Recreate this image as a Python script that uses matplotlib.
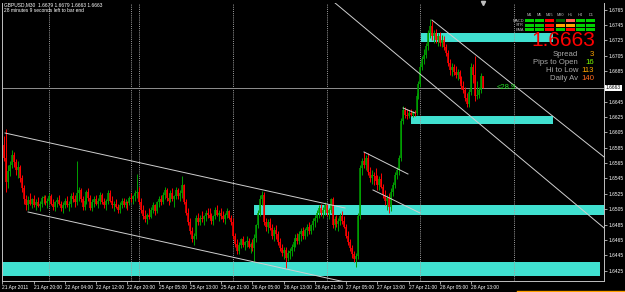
import numpy as np
import matplotlib
matplotlib.use('Agg')
import matplotlib.pyplot as plt
from matplotlib.patches import Rectangle
import matplotlib.transforms as mtransforms

# GBPUSD M30 bars, prices in pips above 1.6400 (open of each bar = previous close)
first_open = 180
highs = [195, 200, 210, 162, 168, 182, 180, 170, 168, 162, 150, 136, 124, 122, 126, 120, 124, 118, 121, 116, 122,
         124,
         124, 120, 126, 125, 118, 116, 121, 124, 116, 114, 120, 122, 116, 126, 128, 124, 168, 134, 132, 122, 120,
         130, 132, 124, 118, 122, 124, 120, 128, 126, 120, 118, 130, 130, 122, 116, 118, 112, 114, 120, 120,
         118,
         116, 122, 126, 124, 130, 151, 134, 120, 110, 104, 100, 106, 108, 114, 112, 116, 122, 124, 128, 134, 132,
         126, 130, 132, 124, 134, 132, 130, 148, 138, 118, 106, 94, 82, 74, 98, 100, 98, 102, 98, 104,
         106,
         106, 100, 98, 108, 110, 104, 106, 102, 100, 106, 104, 98, 94, 74, 66, 62, 68, 70, 64, 70, 68, 62, 66, 72,
         86, 104, 124, 129, 128, 94, 92, 94, 86, 82, 84, 76, 68, 60, 56, 56, 52,
         54,
         60, 66, 72, 74, 76, 80, 82, 80, 86, 88, 86, 94, 98, 104, 110, 112, 108, 114, 112, 106, 120, 121, 96, 98,
         94, 100, 102, 96, 86, 76, 66, 58, 50, 48, 100, 162, 172, 180, 176, 178, 160,
         156,
         154, 158, 150, 148, 152, 138, 130, 124, 126, 132, 140, 154, 160, 176, 224, 239, 238, 236, 234, 236, 233,
         234, 256, 272, 295, 304, 314, 322, 338, 353, 350, 338, 340, 334, 336, 332, 330, 320, 312, 300, 295,
         294,
         292, 288, 286, 278, 272, 264, 256, 262, 295, 294, 305, 272, 264, 282, 279]
lows = [172, 168, 128, 132, 148, 158, 160, 150, 145, 140, 128, 112, 104, 104, 110, 106, 108, 104, 108, 102, 108,
        112,
        110, 106, 112, 110, 104, 103, 108, 110, 102, 100, 106, 108, 103, 108, 114, 108, 110, 116, 114, 104, 104,
        112, 116, 104, 102, 108, 110, 106, 112, 112, 106, 104, 112, 114, 106, 102, 106, 100, 100, 106, 108,
        106,
        104, 110, 114, 112, 116, 120, 112, 100, 92, 88, 86, 92, 94, 100, 98, 100, 108, 110, 112, 118, 116,
        110, 114, 116, 108, 118, 118, 116, 120, 112, 98, 84, 72, 62, 58, 66, 84, 84, 88, 84, 90,
        94,
        92, 86, 84, 92, 96, 90, 92, 88, 86, 94, 92, 84, 66, 56, 46, 46, 54, 56, 52, 56, 54, 48, 50, 37,
        62, 80, 96, 110, 84, 76, 74, 78, 66, 64, 66, 58, 50, 44, 40, 28, 38,
        40,
        44, 50, 56, 60, 60, 64, 66, 66, 70, 72, 72, 78, 82, 88, 94, 96, 94, 98, 96, 92, 100, 80, 78, 82,
        76, 84, 86, 80, 68, 58, 50, 42, 36, 30, 40, 92, 150, 158, 156, 150, 140,
        138,
        136, 138, 130, 130, 132, 119, 110, 104, 100, 102, 122, 132, 144, 150, 168, 216, 224, 222, 224, 226, 225,
        226, 228, 248, 264, 286, 294, 302, 312, 328, 326, 322, 322, 318, 317, 316, 312, 304, 292, 280, 278,
        280,
        276, 273, 270, 262, 256, 246, 238, 238, 254, 270, 246, 249, 250, 256, 263]
closes = [188, 172, 140, 155, 163, 176, 166, 156, 160, 146, 132, 118, 110, 117, 112, 118, 110, 114, 109, 112, 119,
          121,
          113, 116, 122, 112, 108, 114, 117, 112, 106, 110, 116, 110, 112, 122, 118, 114, 126, 130, 118, 108, 116,
          128, 120, 106, 114, 118, 112, 116, 124, 114, 110, 115, 126, 116, 110, 112, 108, 104, 110, 116, 110,
          114,
          113, 120, 118, 122, 126, 128, 114, 104, 96, 92, 98, 95, 104, 110, 102, 114, 118, 114, 124, 130, 120,
          116, 126, 118, 122, 130, 122, 126, 136, 114, 100, 88, 76, 66, 70, 94, 88, 94, 92, 96, 100,
          98,
          94, 90, 96, 104, 98, 100, 96, 92, 98, 102, 94, 88, 70, 60, 50, 58, 66, 58, 62, 64, 56, 60, 54, 68,
          84, 100, 118, 124, 88, 82, 88, 80, 70, 78, 72, 62, 54, 48, 52, 42, 48,
          50,
          56, 62, 68, 64, 72, 76, 70, 78, 82, 76, 84, 90, 94, 100, 106, 100, 104, 110, 100, 104, 118, 84, 92, 86,
          90, 96, 90, 82, 70, 62, 54, 46, 40, 44, 96, 158, 168, 162, 172, 154, 146,
          150,
          148, 142, 136, 144, 134, 124, 116, 120, 108, 128, 136, 150, 156, 172, 220, 234, 228, 226, 230, 228, 231,
          230, 252, 268, 290, 300, 306, 318, 334, 344, 330, 334, 326, 330, 322, 326, 316, 308, 296, 286, 290,
          284,
          280, 284, 274, 266, 260, 250, 242, 258, 290, 280, 252, 254, 260, 279, 263]

time_labels = ['21 Apr 2011', '21 Apr 20:00', '22 Apr 04:00', '22 Apr 12:00', '22 Apr 20:00', '25 Apr 05:00',
               '25 Apr 13:00', '25 Apr 21:00', '26 Apr 05:00', '26 Apr 13:00', '26 Apr 21:00', '27 Apr 05:00',
               '27 Apr 13:00', '27 Apr 21:00', '28 Apr 05:00', '28 Apr 13:00']
separators = [24, 66, 70, 118, 166, 214, 262]
price_ticks = [1.6425 + 0.002 * k for k in range(18)]
current_price = 1.6663
distance_label = '<28.9'
distance_bar = 253

# zones (bar from, bar to, price low, price high)
zones = [(0, 306, 1.64179, 1.64362),
         (129, 310, 1.64974, 1.65105),
         (209, 282, 1.66160, 1.66264),
         (214.3, 282, 1.67228, 1.67345)]
# trend lines (bar, price) -> (bar, price)
trend_lines = [((1.3, 1.66042), (175.4, 1.65065)),
               ((13.1, 1.65013), (175.4, 1.64101)),
               ((185.1, 1.65795), (207.6, 1.65508)),
               ((189.7, 1.65300), (213.8, 1.65000)),
               ((205.1, 1.66368), (211.2, 1.66303)),
               ((170.3, 1.67736), (308, 1.64805)),
               ((219.9, 1.67514), (308, 1.65730))]

panel_cols = ['M1', 'M5', 'M15', 'M30', 'H1', 'H4', 'D1']
panel_rows = ['MACD', 'STR', 'EMA']
panel_colors = [['#00d000', '#00d000', '#ff0000', '#006400', '#ff6050', '#00d000', '#00d000'],
                ['#00d000', '#00d000', '#ff0000', '#ffa500', '#ffa500', '#00d000', '#00d000'],
                ['#00d000', '#00d000', '#ff0000', '#00d000', '#ff0000', '#00d000', '#00d000']]
info_names = ['Spread', 'Pips to Open', 'Hi to Low', 'Daily Av']
info_values = ['3', '16', '113', '140']
info_colors = ['#ffa500', '#7cfc00', '#ffa500', '#ff6a20']

W, H = 625, 292
FONT = 'Liberation Sans'

hi = 1.64 + np.array(highs) / 10000
lo = 1.64 + np.array(lows) / 10000
cl = 1.64 + np.array(closes) / 10000
op = np.concatenate([[1.64 + first_open / 10000], cl[:-1]])
x = np.arange(len(cl))
up = cl >= op
cols = np.where(up, '#00a000', '#ff0000')

fig = plt.figure(figsize=(W / 100, H / 100), dpi=100, facecolor='black')
ax = fig.add_axes([2 / W, 11 / H, 602 / W, 278 / H], facecolor='black')
ax.set_xlim(-0.256, 307.98)
ax.set_ylim(1.64114, 1.67736)

for x0, x1, p0, p1 in zones:
    ax.add_patch(Rectangle((x0, p0), x1 - x0, p1 - p0, facecolor='#40e0d0', edgecolor='none', zorder=1))

for s in separators:
    ax.axvline(s, color='#a0a0a0', lw=0.7, ls=(0, (1, 1.2)), zorder=1.5)
ax.axhline(current_price, color='#909090', lw=0.7, zorder=1.5)

ax.vlines(x, lo, hi, colors=cols, lw=0.7, zorder=2)
ax.vlines(x, np.minimum(op, cl), np.maximum(op, cl), colors=cols, lw=1.1, zorder=2)

for (xa, pa), (xb, pb) in trend_lines:
    ax.plot([xa, xb], [pa, pb], color='#d0d0d0', lw=0.7, zorder=3)

# chart shift marker
ax.plot([len(cl) - 1], [1.0], marker='v', ms=3, color='#c0c0c0', clip_on=False,
        transform=mtransforms.blended_transform_factory(ax.transData, ax.transAxes), zorder=4)

ax.yaxis.tick_right()
ax.set_yticks(price_ticks)
# the label next to the current price is hidden by the price box
ax.set_yticklabels(['' if abs(p - current_price) < 0.0005 else '%.4f' % p for p in price_ticks],
                   fontfamily=FONT)
ax.set_xticks(x[::16][:len(time_labels)])
ax.set_xticklabels(time_labels, ha='left', fontfamily=FONT)
ax.tick_params(axis='both', colors='#c0c0c0', labelcolor='white', length=2, width=0.6,
               labelsize=3.5, pad=1, direction='out')
for side in ['left', 'bottom', 'right']:
    ax.spines[side].set_color('#c0c0c0')
    ax.spines[side].set_linewidth(0.7)
ax.spines['top'].set_visible(False)

# current price box on axis
ax.text(1.003, current_price, '1.6663', transform=mtransforms.blended_transform_factory(ax.transAxes, ax.transData),
        fontsize=3.5, fontfamily=FONT, color='black', va='center', ha='left',
        bbox=dict(boxstyle='square,pad=0.15', facecolor='white', edgecolor='none'), clip_on=False)
ax.text(distance_bar, current_price, distance_label, color='#22e022', fontsize=5.5, fontfamily=FONT,
        va='center', ha='left', zorder=5)


def fpos(px, py):
    return px / W, 1 - py / H


fig.text(*fpos(4, 5), 'GBPUSD,M30  1.6679 1.6679 1.6663 1.6663', color='white', fontsize=3.5,
         fontfamily=FONT, va='center', ha='left')
fig.text(*fpos(4, 11), '28 minutes 9 seconds left to bar end', color='white', fontsize=3.5,
         fontfamily=FONT, va='center', ha='left')

# signal panel
cell_w, cell_h, pitch_x, pitch_y = 9, 3.2, 10.2, 4.5
for k, name in enumerate(panel_cols):
    fig.text(*fpos(525 + pitch_x * k + cell_w / 2, 15.5), name, color='#c0c0c0', fontsize=2.8,
             fontfamily=FONT, va='center', ha='center')
for r, row in enumerate(panel_rows):
    yy = 19 + pitch_y * r
    fig.text(*fpos(524, yy + cell_h / 2), row, color='#c0c0c0', fontsize=2.8, fontfamily=FONT,
             va='center', ha='right')
    for k in range(len(panel_cols)):
        fx, fy = fpos(525 + pitch_x * k, yy + cell_h)
        fig.add_artist(Rectangle((fx, fy), cell_w / W, cell_h / H, transform=fig.transFigure,
                                 facecolor=panel_colors[r][k], edgecolor='none'))

fig.text(*fpos(595, 41), '1.6663', color='#ff0000', fontsize=15, fontfamily=FONT, va='center', ha='right')
for k, (name, val, c) in enumerate(zip(info_names, info_values, info_colors)):
    yy = 55 + 7.7 * k
    fig.text(*fpos(578, yy), name, color='#a8a8a8', fontsize=5.6, fontfamily=FONT, va='center', ha='right')
    fig.text(*fpos(594, yy), val, color=c, fontsize=5.6, fontfamily=FONT, va='center', ha='right')

fig.add_artist(plt.Line2D([517 / W, 1], [0.6 / H, 0.6 / H], color='#ffa000', lw=1, transform=fig.transFigure))

fig.savefig('out.png', dpi=100, facecolor='black')
